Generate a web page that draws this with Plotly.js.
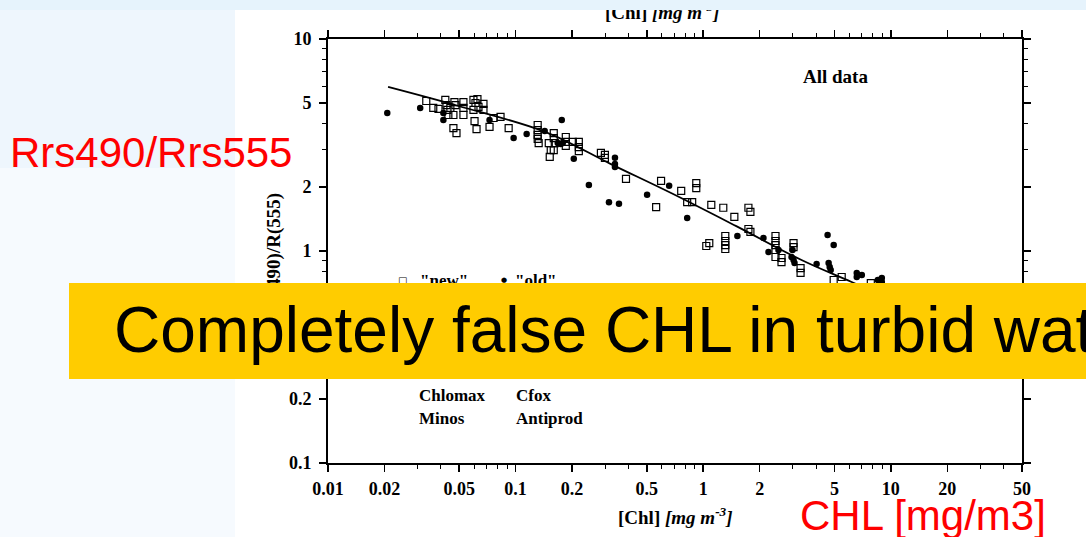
<!DOCTYPE html>
<html>
<head>
<meta charset="utf-8">
<script src="https://cdn.plot.ly/plotly-3.0.1.min.js"></script>
<style>html,body{margin:0;padding:0;background:#f6fafe;}#chart{width:1086px;height:537px;}</style>
</head>
<body>
<div id="chart"></div>
<script>
// "new" data (open squares): chlorophyll [mg m-3] and R(490)/R(555)
const newChl = [0.0334,0.0364,0.0388,0.0422,0.0428,0.0433,0.0449,0.0472,0.0478,0.0466,0.0438,0.0466,0.0484,0.0527,0.0527,0.0527,0.0596,0.0611,0.0626,0.0634,0.0674,0.0674,0.0596,0.0604,0.0619,0.0726,0.0763,0.0831,0.0918,0.1311,0.1311,0.1311,0.1311,0.1327,0.1597,0.1597,0.1502,0.1617,0.1539,0.1520,0.1597,0.1851,0.1851,0.1851,0.2018,0.2172,0.2172,0.2172,0.2848,0.2992,0.2992,0.3875,0.596,0.561,0.763,0.918,0.918,0.821,0.873,1.104,1.279,1.465,1.741,1.784,1.741,1.784,1.038,1.077,1.311,1.311,1.311,1.311,2.427,2.427,2.427,2.427,2.427,2.613,2.613,3.029,3.029,3.302,3.302,4.957,5.47,7.82];
const newRatio = [5.10,4.73,4.68,5.16,4.88,4.63,4.73,5.04,4.88,4.38,4.38,3.80,3.60,5.04,4.73,4.38,5.16,4.99,5.21,4.78,4.94,4.63,4.63,4.10,3.76,3.85,4.24,4.29,3.80,3.93,3.72,3.53,3.38,3.23,3.60,3.41,3.23,3.23,2.99,2.78,2.99,3.45,3.27,3.13,3.27,3.27,3.09,2.96,2.90,2.84,2.75,2.19,2.14,1.61,1.92,2.09,1.98,1.70,1.70,1.65,1.60,1.45,1.60,1.53,1.27,1.23,1.056,1.09,1.177,1.115,1.067,1.022,1.177,1.115,1.067,1.011,0.937,0.927,0.887,1.09,1.044,0.831,0.788,0.730,0.754,0.706];
// "old" data (filled dots)
const oldChl = [0.0207,0.0310,0.0412,0.0412,0.0726,0.0976,0.1145,0.1429,0.1762,0.1677,0.1740,0.1784,0.2042,0.3384,0.3384,0.3384,0.2457,0.3144,0.3555,0.502,0.658,0.821,1.52,2.094,2.227,2.518,2.991,2.955,3.029,3.066,4.02,4.60,4.957,4.66,4.72,4.78,6.58,7.00,6.58,8.52,8.95,8.95];
const oldRatio = [4.48,4.73,4.48,4.15,4.15,3.41,3.56,3.68,4.15,3.23,3.20,3.23,2.72,2.75,2.57,2.49,2.05,1.70,1.67,1.84,2.03,1.43,1.177,1.152,0.989,1.011,1.011,0.937,0.907,0.878,0.868,1.19,1.067,0.878,0.840,0.814,0.788,0.770,0.754,0.730,0.746,0.714];
// fitted curve
const fitChl = [0.0209,0.0496,0.1447,0.322,0.674,1.50,3.34,6.18,24.0];
const fitRatio = [5.94,4.83,3.64,2.57,1.877,1.31,0.907,0.714,0.424];
// tick labels
const xTickVals = [0.01,0.02,0.05,0.1,0.2,0.5,1,2,5,10,20,50];
const xTickText = ['0.01','0.02','0.05','0.1','0.2','0.5','1','2','5','10','20','50'];
const xMinorVals = [0.03,0.04,0.06,0.07,0.08,0.09,0.3,0.4,0.6,0.7,0.8,0.9,3,4,6,7,8,9,30,40];
const yTickVals = [0.1,0.2,0.5,1,2,5,10];
const yTickText = ['0.1','0.2','0.5','1','2','5','10'];
const yMinorVals = [0.3,0.4,0.6,0.7,0.8,0.9,3,4,6,7,8,9];

const W = 1086, H = 537, L = 328, R = 64, T = 39, B = 74;
const pw = W - L - R, ph = H - T - B;
const px = x => (x - L) / pw;
const py = y => (H - B - y) / ph;

const serif = 'Liberation Serif, Times New Roman, serif';
const sans = 'Liberation Sans, Arial, sans-serif';

const traces = [
  {x: fitChl, y: fitRatio, type: 'scatter', mode: 'lines', line: {color: '#000', width: 1.8, shape: 'spline'}, showlegend: false},
  {x: newChl, y: newRatio, type: 'scatter', mode: 'markers', name: '"new"',
   marker: {symbol: 'square-open', size: 7, color: '#000', line: {width: 1.2, color: '#000'}}},
  {x: oldChl, y: oldRatio, type: 'scatter', mode: 'markers', name: '"old"',
   marker: {symbol: 'circle', size: 6.5, color: '#000'}}
];

const axisCommon = {
  type: 'log', showgrid: false, zeroline: false,
  showline: true, linecolor: '#000', linewidth: 2, mirror: 'ticks',
  ticks: 'outside', ticklen: 7, tickwidth: 1.5, tickcolor: '#000',
  tickmode: 'array',
  tickfont: {family: serif, size: 18, color: '#000', weight: 700}
};

function ann(text, x, y, opts) {
  return Object.assign({text: text, xref: 'paper', yref: 'paper', x: px(x), y: py(y), showarrow: false,
    xanchor: 'left', yanchor: 'middle', font: {family: serif, size: 17, color: '#000', weight: 700}}, opts || {});
}

const annotations = [
  ann('[Chl] <i>[mg m<sup>-3</sup>]</i>', 662, 11, {xanchor: 'center', font: {family: serif, size: 19, color: '#000', weight: 700}}),
  ann(' ', 0, 0, {yanchor: 'top', width: 1086, height: 10, bgcolor: '#e6f3fc', borderpad: 0, borderwidth: 0, font: {size: 2}}),
  ann('All data', 835, 76, {xanchor: 'center', font: {family: serif, size: 19, color: '#000', weight: 700}}),
  ann('Chlomax', 417, 395),
  ann('Cfox', 514, 395),
  ann('Minos', 417, 418),
  ann('Antiprod', 514, 418),
  ann('\u25A1', 396, 280, {font: {family: 'DejaVu Sans', size: 10, color: '#000'}}),
  ann('"new"', 418, 280),
  ann('\u25CF', 499, 280, {font: {family: 'DejaVu Sans', size: 7, color: '#000'}}),
  ann('"old"', 513, 280),
  ann('[Chl] <i>[mg m<sup>-3</sup>]</i>', 675, 516, {xanchor: 'center', font: {family: serif, size: 19, color: '#000', weight: 700}}),
  ann('R(490)/R(555)', 274, 251, {xanchor: 'center', textangle: -90, font: {family: serif, size: 19, color: '#000', weight: 700}}),
  ann(' ', 69, 283, {yanchor: 'top', width: 1017, height: 96, bgcolor: '#FFCC00', borderpad: 0, borderwidth: 0, font: {size: 2}}),
  ann('Completely false CHL in turbid waters', 112, 330, {font: {family: sans, size: 64, color: '#000'}}),
  ann('Rrs490/Rrs555', 8, 152, {font: {family: sans, size: 42, color: '#FF0000'}}),
  ann('CHL [mg/m3]', 798, 515, {font: {family: sans, size: 42, color: '#FF0000'}})
];

const layout = {
  width: W, height: H,
  margin: {l: L, r: R, t: T, b: B},
  paper_bgcolor: '#f6fafe', plot_bgcolor: '#ffffff',
  showlegend: false,
  xaxis: Object.assign({}, axisCommon, {
    range: [-2, Math.log10(50)], tickvals: xTickVals, ticktext: xTickText, ticklabelstandoff: 1,
    minor: {tickmode: 'array', tickvals: xMinorVals, ticks: 'outside', ticklen: 4, tickwidth: 1, tickcolor: '#000', showgrid: false}
  }),
  yaxis: Object.assign({}, axisCommon, {
    range: [-1, 1], tickvals: yTickVals, ticktext: yTickText, ticklabelstandoff: 4,
    minor: {tickmode: 'array', tickvals: yMinorVals, ticks: 'outside', ticklen: 4, tickwidth: 1, tickcolor: '#000', showgrid: false}
  }),
  shapes: [
    {type: 'rect', xref: 'paper', yref: 'paper', x0: px(235), x1: px(1090), y0: py(540), y1: py(10), fillcolor: '#ffffff', line: {width: 0}, layer: 'below'},
    {type: 'rect', xref: 'paper', yref: 'paper', x0: px(-5), x1: px(235), y0: py(168), y1: py(-5), fillcolor: '#eef6fd', line: {width: 0}, layer: 'below'}
  ],
  annotations: annotations,
  hovermode: false
};

Plotly.newPlot('chart', traces, layout, {displayModeBar: false, staticPlot: true});
</script>
</body>
</html>
